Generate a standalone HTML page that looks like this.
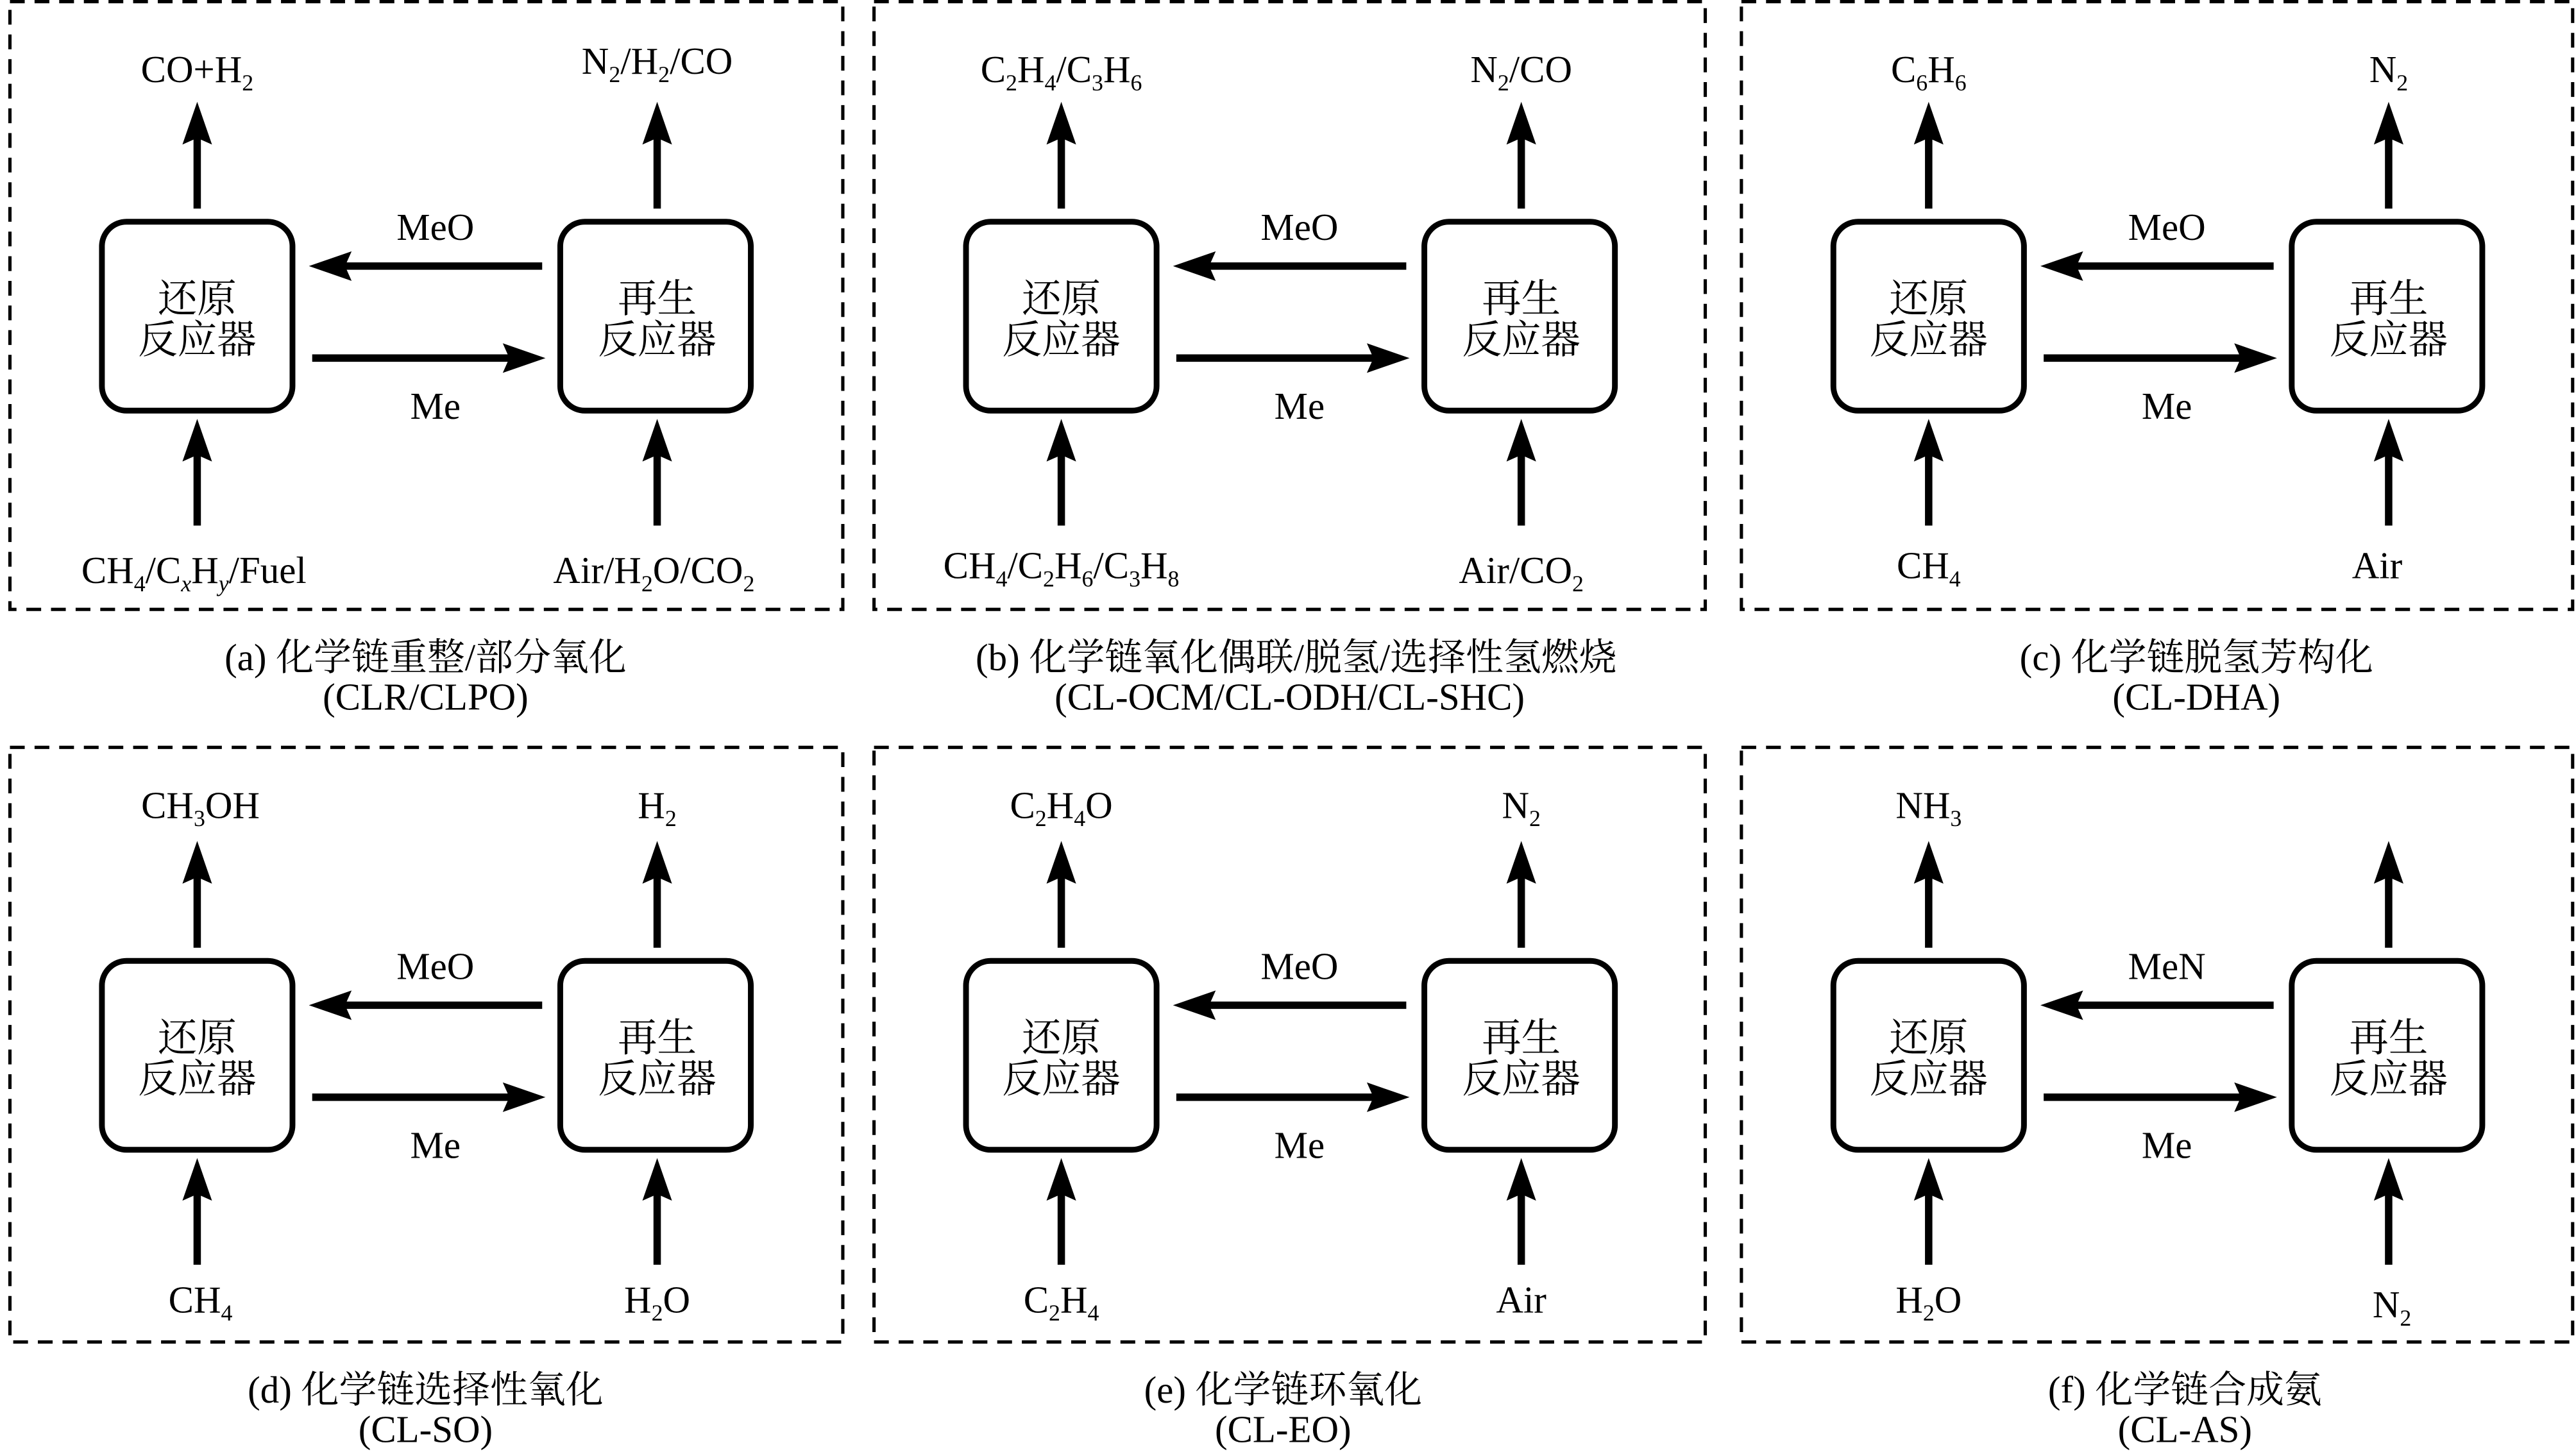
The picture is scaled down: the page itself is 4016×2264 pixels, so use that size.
<!DOCTYPE html>
<html><head><meta charset="utf-8"><style>
html,body{margin:0;padding:0;background:#fff;}
svg{display:block;}
text{font-family:"Liberation Serif","Noto Serif CJK SC",serif;fill:#000;}
.l{font-size:23px;text-anchor:middle;}
.b{font-size:24px;text-anchor:middle;}
.c{font-size:23px;text-anchor:middle;}
.s{font-size:14px;}
</style></head><body>
<svg width="4016" height="2264" viewBox="0 0 1568 884" xmlns="http://www.w3.org/2000/svg">
<defs>
<g id="p">
<rect x="62" y="135" width="116" height="115" rx="15" fill="none" stroke="#000" stroke-width="3.5"/>
<rect x="341" y="135" width="116" height="115" rx="15" fill="none" stroke="#000" stroke-width="3.5"/>
<g stroke="#000" stroke-width="4.5">
<line x1="120" y1="127" x2="120" y2="82"/><line x1="400" y1="127" x2="400" y2="82"/>
<line x1="120" y1="320" x2="120" y2="275"/><line x1="400" y1="320" x2="400" y2="275"/>
<line x1="330" y1="162" x2="205" y2="162"/><line x1="190" y1="218" x2="315" y2="218"/>
</g>
<g fill="#000">
<polygon points="120,62 111,88 120,84 129,88"/><polygon points="400,62 391,88 400,84 409,88"/>
<polygon points="120,255 111,281 120,277 129,281"/><polygon points="400,255 391,281 400,277 409,281"/>
<polygon points="188,162 214,153 210,162 214,171"/><polygon points="332,218 306,209 310,218 306,227"/>
</g>
</g>
</defs>
<g fill="none" stroke="#000" stroke-width="2" stroke-dasharray="9,6">
<rect x="6" y="1" width="507" height="370"/><rect x="532" y="1" width="506" height="370"/><rect x="1060" y="1" width="506" height="370"/>
<rect x="6" y="455" width="507" height="362"/><rect x="532" y="455" width="506" height="362"/><rect x="1060" y="455" width="506" height="362"/>
</g>
<use href="#p"/><use href="#p" x="526"/><use href="#p" x="1054"/>
<use href="#p" y="450"/><use href="#p" x="526" y="450"/><use href="#p" x="1054" y="450"/>

<g>
<text class="l" x="120" y="50">CO+H<tspan class="s" dy="5">2</tspan></text>
<text class="l" x="400" y="45">N<tspan class="s" dy="5">2</tspan><tspan dy="-5">/H</tspan><tspan class="s" dy="5">2</tspan><tspan dy="-5">/CO</tspan></text>
<text class="l" x="265" y="146">MeO</text><text class="l" x="265" y="255">Me</text>
<text class="b" x="120" y="190">还原</text><text class="b" x="120" y="215">反应器</text>
<text class="b" x="400" y="190">再生</text><text class="b" x="400" y="215">反应器</text>
<text class="l" x="118" y="355">CH<tspan class="s" dy="5">4</tspan><tspan dy="-5">/C</tspan><tspan class="s" dy="5" font-style="italic">x</tspan><tspan dy="-5">H</tspan><tspan class="s" dy="5" font-style="italic">y</tspan><tspan dy="-5">/Fuel</tspan></text>
<text class="l" x="398" y="355">Air/H<tspan class="s" dy="5">2</tspan><tspan dy="-5">O/CO</tspan><tspan class="s" dy="5">2</tspan></text>
<text class="c" x="259" y="408">(a) 化学链重整/部分氧化</text><text class="c" x="259" y="432">(CLR/CLPO)</text>
</g>
<g transform="translate(526,0)">
<text class="l" x="120" y="50">C<tspan class="s" dy="5">2</tspan><tspan dy="-5">H</tspan><tspan class="s" dy="5">4</tspan><tspan dy="-5">/C</tspan><tspan class="s" dy="5">3</tspan><tspan dy="-5">H</tspan><tspan class="s" dy="5">6</tspan></text>
<text class="l" x="400" y="50">N<tspan class="s" dy="5">2</tspan><tspan dy="-5">/CO</tspan></text>
<text class="l" x="265" y="146">MeO</text><text class="l" x="265" y="255">Me</text>
<text class="b" x="120" y="190">还原</text><text class="b" x="120" y="215">反应器</text>
<text class="b" x="400" y="190">再生</text><text class="b" x="400" y="215">反应器</text>
<text class="l" x="120" y="352">CH<tspan class="s" dy="5">4</tspan><tspan dy="-5">/C</tspan><tspan class="s" dy="5">2</tspan><tspan dy="-5">H</tspan><tspan class="s" dy="5">6</tspan><tspan dy="-5">/C</tspan><tspan class="s" dy="5">3</tspan><tspan dy="-5">H</tspan><tspan class="s" dy="5">8</tspan></text>
<text class="l" x="400" y="355">Air/CO<tspan class="s" dy="5">2</tspan></text>
<text class="c" x="263" y="408">(b) 化学链氧化偶联/脱氢/选择性氢燃烧</text><text class="c" x="259" y="432">(CL-OCM/CL-ODH/CL-SHC)</text>
</g>
<g transform="translate(1054,0)">
<text class="l" x="120" y="50">C<tspan class="s" dy="5">6</tspan><tspan dy="-5">H</tspan><tspan class="s" dy="5">6</tspan></text>
<text class="l" x="400" y="50">N<tspan class="s" dy="5">2</tspan></text>
<text class="l" x="265" y="146">MeO</text><text class="l" x="265" y="255">Me</text>
<text class="b" x="120" y="190">还原</text><text class="b" x="120" y="215">反应器</text>
<text class="b" x="400" y="190">再生</text><text class="b" x="400" y="215">反应器</text>
<text class="l" x="120" y="352">CH<tspan class="s" dy="5">4</tspan></text>
<text class="l" x="393" y="352">Air</text>
<text class="c" x="283" y="408">(c) 化学链脱氢芳构化</text><text class="c" x="283" y="432">(CL-DHA)</text>
</g>
<g transform="translate(0,450)">
<text class="l" x="122" y="48">CH<tspan class="s" dy="5">3</tspan><tspan dy="-5">OH</tspan></text>
<text class="l" x="400" y="48">H<tspan class="s" dy="5">2</tspan></text>
<text class="l" x="265" y="146">MeO</text><text class="l" x="265" y="255">Me</text>
<text class="b" x="120" y="190">还原</text><text class="b" x="120" y="215">反应器</text>
<text class="b" x="400" y="190">再生</text><text class="b" x="400" y="215">反应器</text>
<text class="l" x="122" y="349">CH<tspan class="s" dy="5">4</tspan></text>
<text class="l" x="400" y="349">H<tspan class="s" dy="5">2</tspan><tspan dy="-5">O</tspan></text>
<text class="c" x="259" y="404">(d) 化学链选择性氧化</text><text class="c" x="259" y="428">(CL-SO)</text>
</g>
<g transform="translate(526,450)">
<text class="l" x="120" y="48">C<tspan class="s" dy="5">2</tspan><tspan dy="-5">H</tspan><tspan class="s" dy="5">4</tspan><tspan dy="-5">O</tspan></text>
<text class="l" x="400" y="48">N<tspan class="s" dy="5">2</tspan></text>
<text class="l" x="265" y="146">MeO</text><text class="l" x="265" y="255">Me</text>
<text class="b" x="120" y="190">还原</text><text class="b" x="120" y="215">反应器</text>
<text class="b" x="400" y="190">再生</text><text class="b" x="400" y="215">反应器</text>
<text class="l" x="120" y="349">C<tspan class="s" dy="5">2</tspan><tspan dy="-5">H</tspan><tspan class="s" dy="5">4</tspan></text>
<text class="l" x="400" y="349">Air</text>
<text class="c" x="255" y="404">(e) 化学链环氧化</text><text class="c" x="255" y="428">(CL-EO)</text>
</g>
<g transform="translate(1054,450)">
<text class="l" x="120" y="48">NH<tspan class="s" dy="5">3</tspan></text>
<text class="l" x="402" y="352">N<tspan class="s" dy="5">2</tspan></text>
<text class="l" x="265" y="146">MeN</text><text class="l" x="265" y="255">Me</text>
<text class="b" x="120" y="190">还原</text><text class="b" x="120" y="215">反应器</text>
<text class="b" x="400" y="190">再生</text><text class="b" x="400" y="215">反应器</text>
<text class="l" x="120" y="349">H<tspan class="s" dy="5">2</tspan><tspan dy="-5">O</tspan></text>
<text class="c" x="276" y="404">(f) 化学链合成氨</text><text class="c" x="276" y="428">(CL-AS)</text>
</g>
</svg>
</body></html>
